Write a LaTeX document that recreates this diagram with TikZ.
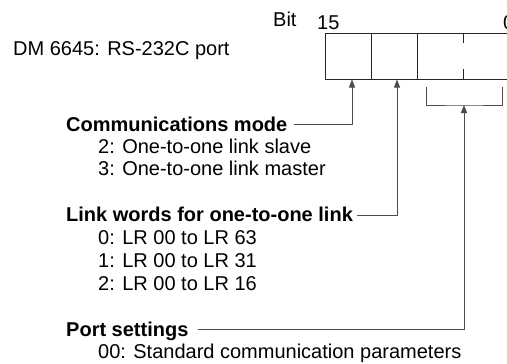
\documentclass[tikz,border=0pt]{standalone}
\usepackage{fontspec}
\setmainfont{Liberation Sans}
\usetikzlibrary{arrows.meta}
\begin{document}
\begin{tikzpicture}[x=1pt,y=-1pt,
  txt/.style={inner sep=0pt, anchor=base west, font=\fontsize{20}{24}\selectfont},
  head/.style={txt, font=\fontsize{20}{24}\selectfont\bfseries},
  cell/.style={draw=black!85, minimum height=46pt, inner sep=0pt, line width=1pt},
  conn/.style={draw=black!70, line width=1pt},
  arr/.style={conn, -{Triangle[length=8pt,width=6pt]}}]
\clip (0,0) rectangle (507,364);
% labels at the top
\node[txt] (dm) at (13,55) {DM 6645: RS-232C port};
\node[txt] (bit) at (273,27) {Bit};
\node[txt] (b15) at (317,29) {15};
\node[txt] (b0) at (503,29) {0};
% the register
\node[cell, minimum width=46pt] (c1) at (348,56) {};
\node[cell, minimum width=46pt] (c2) at (394,56) {};
\node[cell, minimum width=92pt] (c34) at (463,56) {};
\draw[draw=black!85, line width=1pt] (c34.north) -- ++(0,10);
\draw[draw=black!85, line width=1pt] (c34.south) -- ++(0,-11);
% bracket under the two right digits
\coordinate (bl) at (426,87);
\coordinate (br) at (502,87);
\coordinate (bmid) at (464,105);
\draw[conn] (bl) |- (bmid) -| (br);
% headings and items
\node[head] (modeh) at (66,131) {Communications mode};
\node[txt] (m2) at (98,153) {2: One-to-one link slave};
\node[txt] (m3) at (98,175) {3: One-to-one link master};
\node[head] (linkh) at (66,221) {Link words for one-to-one link};
\node[txt] (l0) at (98,244) {0: LR 00 to LR 63};
\node[txt] (l1) at (98,267) {1: LR 00 to LR 31};
\node[txt] (l2) at (98,290) {2: LR 00 to LR 16};
\node[head] (porth) at (66,336) {Port settings};
\node[txt] (p0) at (98,358) {00: Standard communication parameters};
% connectors
\draw[arr] ([xshift=6pt,yshift=7pt]modeh.base east) -| ([xshift=4pt]c1.south);
\draw[arr] ([xshift=4pt,yshift=6pt]linkh.base east) -| ([xshift=3pt]c2.south);
\draw[arr] ([xshift=9pt,yshift=7pt]porth.base east) -| (bmid);
\end{tikzpicture}
\end{document}
